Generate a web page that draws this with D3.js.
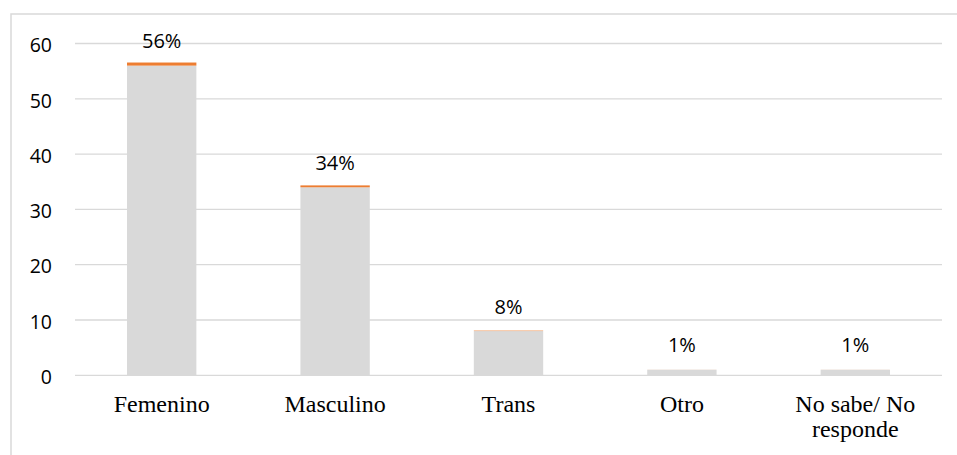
<!DOCTYPE html>
<html>
<head>
<meta charset="utf-8">
<script src="https://cdn.jsdelivr.net/npm/d3@7"></script>
<style>
  body { margin: 0; background: #fff; }
  svg { display: block; }
</style>
</head>
<body>
<svg id="chart" width="957" height="455"></svg>
<script>
// data
const categories = ['Femenino', 'Masculino', 'Trans', 'Otro', 'No sabe/ No responde'];
const counts = [56, 34, 8, 1, 1];
const shares = [0.56, 0.34, 0.08, 0.01, 0.01];
const shareLabels = ['56%', '34%', '8%', '1%', '1%'];
const yTicks = [0, 10, 20, 30, 40, 50, 60];

const svg = d3.select('#chart');
const margin = { left: 75, right: 15, top: 43.5, bottom: 79.7 };
const width = 957, height = 455;

// chart frame (runs off the right and bottom edge)
svg.append('rect')
    .attr('x', 11).attr('y', 14)
    .attr('width', 980).attr('height', 480)
    .style('fill', 'none')
    .style('stroke', '#d9d9d9')
    .style('stroke-width', 1.5);

const x = d3.scaleBand()
    .domain(categories)
    .range([margin.left, width - margin.right])
    .paddingInner(0.6)
    .paddingOuter(0.3);

const y = d3.scaleLinear()
    .domain([0, 60])
    .range([height - margin.bottom, margin.top]);

// gridlines
svg.append('g')
    .selectAll('line')
    .data(yTicks)
    .join('line')
    .attr('x1', margin.left)
    .attr('x2', width - margin.right)
    .attr('y1', d => y(d))
    .attr('y2', d => y(d))
    .style('stroke', '#d9d9d9')
    .style('stroke-width', 1.3);

// y axis labels
const yAxis = svg.append('g')
    .attr('transform', `translate(${margin.left},0)`)
    .call(d3.axisLeft(y).tickValues(yTicks).tickSize(0).tickPadding(23));
yAxis.select('.domain').remove();
yAxis.selectAll('text')
    .attr('dy', '0.42em')
    .style('font-family', '"Open Sans", sans-serif')
    .style('font-size', '19.5px')
    .style('fill', '#000');

// stacked bars: count + share
const rows = categories.map((c, i) => ({ cat: c, count: counts[i], share: shares[i], label: shareLabels[i] }));

svg.append('g')
    .selectAll('rect')
    .data(rows)
    .join('rect')
    .attr('x', d => x(d.cat))
    .attr('width', x.bandwidth())
    .attr('y', d => y(d.count))
    .attr('height', d => y(0) - y(d.count))
    .style('fill', '#d9d9d9');

svg.append('g')
    .selectAll('rect')
    .data(rows)
    .join('rect')
    .attr('x', d => x(d.cat))
    .attr('width', x.bandwidth())
    .attr('y', d => y(d.count + d.share))
    .attr('height', d => y(d.count) - y(d.count + d.share))
    .style('fill', '#ed7d31');

// percentage labels
svg.append('g')
    .selectAll('text')
    .data(rows)
    .join('text')
    .attr('x', d => x(d.cat) + x.bandwidth() / 2)
    .attr('y', d => y(d.count) - 17.5)
    .attr('text-anchor', 'middle')
    .style('font-family', '"Open Sans", sans-serif')
    .style('font-size', '20px')
    .text(d => d.label);

// category labels, wrapped like the original
const lines = { 'No sabe/ No responde': ['No sabe/ No', 'responde'] };
svg.append('g')
    .selectAll('text')
    .data(categories)
    .join('text')
    .attr('x', d => x(d) + x.bandwidth() / 2)
    .attr('y', 411.5)
    .attr('text-anchor', 'middle')
    .style('font-family', '"Liberation Serif", "Times New Roman", serif')
    .style('font-size', '24px')
    .each(function (d) {
        const parts = lines[d] || [d];
        d3.select(this).selectAll('tspan')
            .data(parts)
            .join('tspan')
            .attr('x', x(d) + x.bandwidth() / 2)
            .attr('dy', (p, i) => i === 0 ? 0 : 25)
            .text(p => p);
    });
</script>
</body>
</html>
